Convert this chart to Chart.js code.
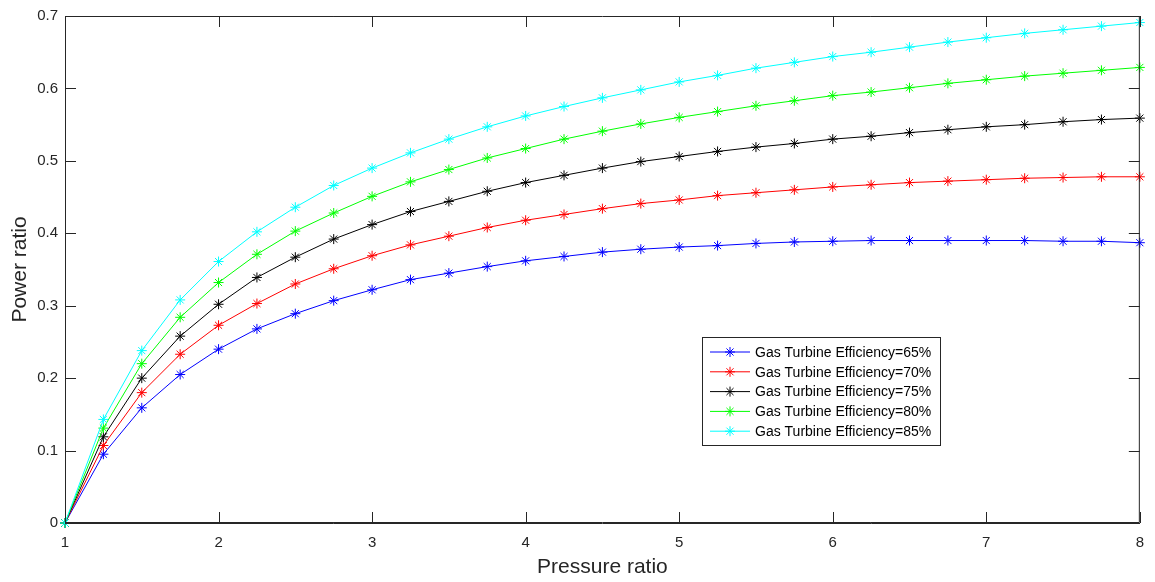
<!DOCTYPE html>
<html>
<head>
<meta charset="utf-8">
<script src="https://cdn.jsdelivr.net/npm/chart.js@4.4.1/dist/chart.umd.min.js"></script>
<style>
  html, body { margin: 0; padding: 0; background: #fff; }
  #wrap { width: 1155px; height: 582px; }
</style>
</head>
<body>
<div id="wrap"><canvas id="chart" width="1155" height="582"></canvas></div>
<script>
// pressure ratio (x axis)
const pressureRatio = [1, 1.25, 1.5, 1.75, 2, 2.25, 2.5, 2.75, 3, 3.25, 3.5, 3.75, 4, 4.25, 4.5,
    4.75, 5, 5.25, 5.5, 5.75, 6, 6.25, 6.5, 6.75, 7, 7.25, 7.5, 7.75, 8];

// power ratio for each gas turbine efficiency
const eff65 = [0, 0.095, 0.159, 0.205, 0.240, 0.268, 0.289, 0.307, 0.322, 0.336, 0.345, 0.354, 0.362, 0.368, 0.374,
    0.378, 0.381, 0.383, 0.386, 0.388, 0.389, 0.390, 0.390, 0.390, 0.390, 0.390, 0.389, 0.389, 0.387];
const eff70 = [0, 0.107, 0.180, 0.233, 0.273, 0.303, 0.330, 0.351, 0.369, 0.384, 0.396, 0.408, 0.418, 0.426, 0.434,
    0.441, 0.446, 0.452, 0.456, 0.460, 0.464, 0.467, 0.470, 0.472, 0.474, 0.476, 0.477, 0.478, 0.478];
const eff75 = [0, 0.119, 0.200, 0.258, 0.302, 0.339, 0.367, 0.392, 0.412, 0.430, 0.444, 0.458, 0.470, 0.480, 0.490,
    0.499, 0.506, 0.513, 0.519, 0.524, 0.530, 0.534, 0.539, 0.543, 0.547, 0.550, 0.554, 0.557, 0.559];
const eff80 = [0, 0.131, 0.220, 0.284, 0.332, 0.371, 0.403, 0.428, 0.451, 0.471, 0.488, 0.504, 0.517, 0.530, 0.541,
    0.551, 0.560, 0.568, 0.576, 0.583, 0.590, 0.595, 0.601, 0.607, 0.612, 0.617, 0.621, 0.625, 0.629];
const eff85 = [0, 0.143, 0.238, 0.308, 0.361, 0.402, 0.436, 0.466, 0.490, 0.511, 0.530, 0.547, 0.562, 0.575, 0.587,
    0.598, 0.609, 0.618, 0.628, 0.636, 0.644, 0.650, 0.657, 0.664, 0.670, 0.676, 0.681, 0.686, 0.691];

const seriesNames = ['Gas Turbine Efficiency=65%', 'Gas Turbine Efficiency=70%', 'Gas Turbine Efficiency=75%',
    'Gas Turbine Efficiency=80%', 'Gas Turbine Efficiency=85%'];
const seriesValues = [eff65, eff70, eff75, eff80, eff85];
const seriesColors = ['#0000ff', '#ff0000', '#000000', '#00ff00', '#00ffff'];

const xTicks = [1, 2, 3, 4, 5, 6, 7, 8];
const yTicks = [0, 0.1, 0.2, 0.3, 0.4, 0.5, 0.6, 0.7];

const FONT = "Arial, 'Liberation Sans', Helvetica, sans-serif";
const AXIS = '#262626';

/* ================= BOX + INWARD TICKS ====================== */
const boxPlugin = {
    id: 'box',
    afterDatasetsDraw(chart) {
        const { ctx, chartArea: a, scales } = chart;
        const len = 11;
        ctx.save();
        ctx.strokeStyle = AXIS;
        ctx.lineWidth = 1;
        ctx.beginPath();
        ctx.rect(a.left + 0.5, a.top + 0.5, a.right - a.left - 1, a.bottom - a.top - 1);
        xTicks.forEach(v => {
            const px = Math.round(scales.x.getPixelForValue(v)) + 0.5;
            ctx.moveTo(px, a.bottom); ctx.lineTo(px, a.bottom - len);
            ctx.moveTo(px, a.top); ctx.lineTo(px, a.top + len);
        });
        yTicks.forEach(v => {
            const py = Math.round(scales.y.getPixelForValue(v)) + 0.5;
            ctx.moveTo(a.left, py); ctx.lineTo(a.left + len, py);
            ctx.moveTo(a.right, py); ctx.lineTo(a.right - len, py);
        });
        ctx.stroke();
        ctx.restore();
    }
};

/* ================= LEGEND ====================== */
const legendPlugin = {
    id: 'boxLegend',
    afterDraw(chart) {
        const ctx = chart.ctx;
        const x0 = 702, y0 = 337, w = 238, h = 108;
        ctx.save();
        ctx.fillStyle = '#fff';
        ctx.fillRect(x0, y0, w, h);
        ctx.strokeStyle = AXIS;
        ctx.lineWidth = 1;
        ctx.strokeRect(x0 + 0.5, y0 + 0.5, w, h);
        ctx.font = '14px ' + FONT;
        ctx.textBaseline = 'middle';
        seriesNames.forEach((name, i) => {
            const y = y0 + 15 + i * 19.8;
            ctx.strokeStyle = seriesColors[i];
            ctx.beginPath();
            ctx.moveTo(x0 + 8, y); ctx.lineTo(x0 + 48, y);
            ctx.stroke();
            Chart.helpers.drawPoint(ctx, { pointStyle: 'star', radius: 5, borderWidth: 1 }, x0 + 28, y);
            ctx.fillStyle = '#000';
            ctx.fillText(name, x0 + 53, y + 1);
        });
        ctx.restore();
    }
};

const chart = document.querySelector('#chart').getContext('2d');

new Chart(chart, {
    type: 'line',
    data: {
        labels: pressureRatio,
        datasets: seriesValues.map((vals, i) => ({
            label: seriesNames[i],
            data: vals.map((v, k) => ({ x: pressureRatio[k], y: v })),
            borderColor: seriesColors[i],
            backgroundColor: seriesColors[i],
            borderWidth: 1,
            pointStyle: 'star',
            pointRadius: 5,
            pointBorderWidth: 1,
            pointBorderColor: seriesColors[i],
            tension: 0,
            clip: false,
            order: 4 - i
        }))
    },
    options: {
        responsive: false,
        animation: false,
        events: [],
        layout: { padding: { top: 11, right: 15, left: 0, bottom: 0 } },
        plugins: { legend: { display: false }, tooltip: { enabled: false } },
        scales: {
            x: {
                type: 'linear',
                min: 1, max: 8,
                afterFit: s => { s.height = 59; },
                afterBuildTicks: s => { s.ticks = xTicks.map(v => ({ value: v })); },
                grid: { display: false, drawTicks: false },
                border: { color: AXIS, width: 1 },
                ticks: { color: AXIS, padding: 11, font: { family: FONT, size: 15 } },
                title: {
                    display: true, text: 'Pressure ratio', color: AXIS,
                    font: { family: FONT, size: 21 }, padding: { top: 0, bottom: 2 }
                }
            },
            y: {
                min: 0, max: 0.7,
                afterFit: s => { s.width = 65; },
                afterBuildTicks: s => { s.ticks = yTicks.map(v => ({ value: v })); },
                grid: { display: false, drawTicks: false },
                border: { color: AXIS, width: 1 },
                ticks: {
                    color: AXIS, padding: 7, font: { family: FONT, size: 15 },
                    callback: v => String(Number(v.toFixed(1)))
                },
                title: {
                    display: true, text: 'Power ratio', color: AXIS,
                    font: { family: FONT, size: 21 }, padding: { top: 8, bottom: 0 }
                }
            }
        }
    },
    plugins: [boxPlugin, legendPlugin]
});
</script>
</body>
</html>
